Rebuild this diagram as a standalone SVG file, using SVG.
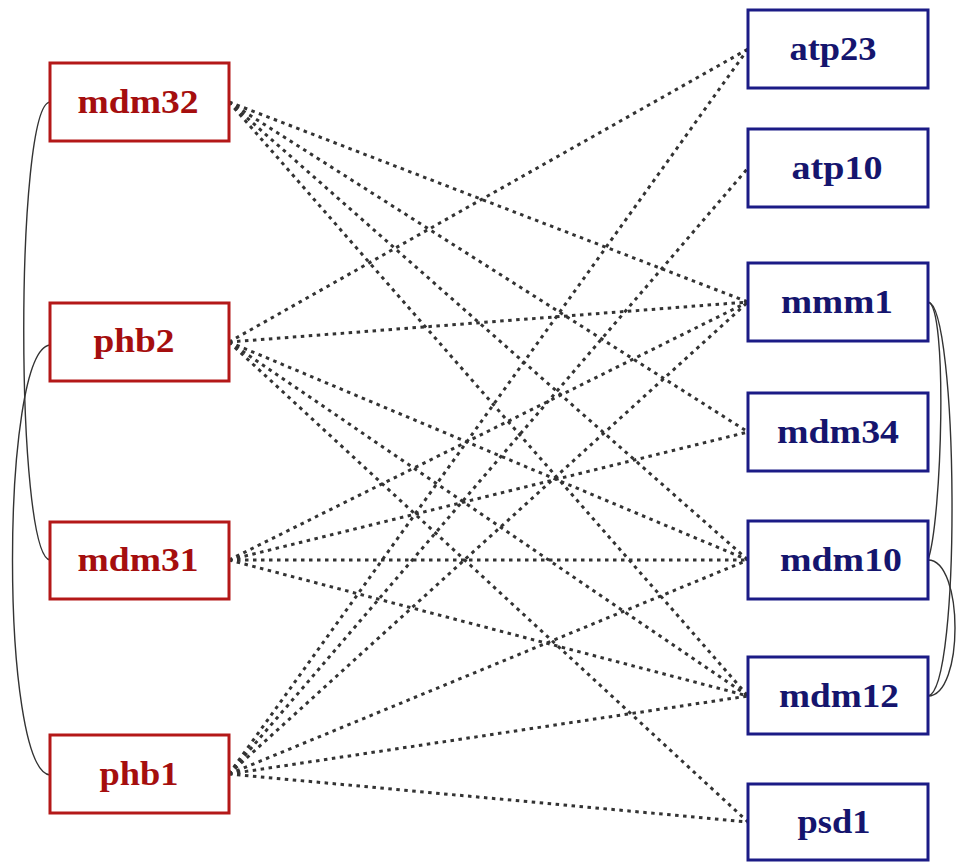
<svg xmlns="http://www.w3.org/2000/svg" width="956" height="862" viewBox="0 0 956 862">
<style>
.bg{fill:#ffffff}
.lbox{fill:#ffffff;stroke:#b41818;stroke-width:3}
.rbox{fill:#ffffff;stroke:#1b1b86;stroke-width:3}
.ltxt{font-family:"Liberation Serif","Times New Roman",serif;font-weight:bold;font-size:34px;fill:#a50e0e;text-anchor:middle}
.rtxt{font-family:"Liberation Serif","Times New Roman",serif;font-weight:bold;font-size:34px;fill:#15156e;text-anchor:middle}
.dot{fill:none;stroke:#333333;stroke-width:3;stroke-dasharray:3.5 4.5}
.arc{fill:none;stroke:#333333;stroke-width:1.4}
</style>
<rect class="bg" x="0" y="0" width="956" height="862"/>
<g id="connectors">
<path class="arc" d="M50,102 C15,105 15,555 50,560"/>
<path class="arc" d="M50,345 C0,350 0,770 50,775"/>
<path class="arc" d="M928,302 C948,305 942,520 928,560"/>
<path class="arc" d="M928,302 C958,305 962,690 928,696"/>
<path class="arc" d="M928,560 C964,560 964,696 928,696"/>
<line class="dot" x1="229" y1="102" x2="748" y2="302"/>
<line class="dot" x1="229" y1="102" x2="748" y2="432"/>
<line class="dot" x1="229" y1="102" x2="748" y2="560"/>
<line class="dot" x1="229" y1="102" x2="748" y2="696"/>
<line class="dot" x1="229" y1="342" x2="748" y2="49"/>
<line class="dot" x1="229" y1="342" x2="748" y2="302"/>
<line class="dot" x1="229" y1="342" x2="748" y2="560"/>
<line class="dot" x1="229" y1="342" x2="748" y2="696"/>
<line class="dot" x1="229" y1="342" x2="748" y2="822"/>
<line class="dot" x1="229" y1="560" x2="748" y2="302"/>
<line class="dot" x1="229" y1="560" x2="748" y2="432"/>
<line class="dot" x1="229" y1="560" x2="748" y2="560"/>
<line class="dot" x1="229" y1="560" x2="748" y2="696"/>
<line class="dot" x1="229" y1="774" x2="748" y2="49"/>
<line class="dot" x1="229" y1="774" x2="748" y2="168"/>
<line class="dot" x1="229" y1="774" x2="748" y2="302"/>
<line class="dot" x1="229" y1="774" x2="748" y2="560"/>
<line class="dot" x1="229" y1="774" x2="748" y2="696"/>
<line class="dot" x1="229" y1="774" x2="748" y2="822"/>
</g>
<g id="mdm32"><rect class="lbox" x="50" y="63" width="179" height="78"/><text class="ltxt" x="138" y="113" textLength="121" lengthAdjust="spacingAndGlyphs">mdm32</text></g>
<g id="phb2"><rect class="lbox" x="50" y="303" width="179" height="78"/><text class="ltxt" x="134" y="352" textLength="81" lengthAdjust="spacingAndGlyphs">phb2</text></g>
<g id="mdm31"><rect class="lbox" x="50" y="522" width="179" height="77"/><text class="ltxt" x="138" y="571" textLength="121" lengthAdjust="spacingAndGlyphs">mdm31</text></g>
<g id="phb1"><rect class="lbox" x="50" y="735" width="179" height="78"/><text class="ltxt" x="139" y="785" textLength="79" lengthAdjust="spacingAndGlyphs">phb1</text></g>
<g id="atp23"><rect class="rbox" x="748" y="10" width="180" height="78"/><text class="rtxt" x="833" y="60" textLength="87" lengthAdjust="spacingAndGlyphs">atp23</text></g>
<g id="atp10"><rect class="rbox" x="748" y="129" width="180" height="78"/><text class="rtxt" x="837" y="179" textLength="91" lengthAdjust="spacingAndGlyphs">atp10</text></g>
<g id="mmm1"><rect class="rbox" x="748" y="263" width="180" height="78"/><text class="rtxt" x="837" y="313" textLength="112" lengthAdjust="spacingAndGlyphs">mmm1</text></g>
<g id="mdm34"><rect class="rbox" x="748" y="393" width="180" height="78"/><text class="rtxt" x="838" y="443" textLength="122" lengthAdjust="spacingAndGlyphs">mdm34</text></g>
<g id="mdm10"><rect class="rbox" x="748" y="521" width="180" height="78"/><text class="rtxt" x="841" y="571" textLength="122" lengthAdjust="spacingAndGlyphs">mdm10</text></g>
<g id="mdm12"><rect class="rbox" x="748" y="657" width="180" height="77"/><text class="rtxt" x="839" y="707" textLength="120" lengthAdjust="spacingAndGlyphs">mdm12</text></g>
<g id="psd1"><rect class="rbox" x="748" y="784" width="180" height="76"/><text class="rtxt" x="834" y="833" textLength="73" lengthAdjust="spacingAndGlyphs">psd1</text></g>
</svg>
